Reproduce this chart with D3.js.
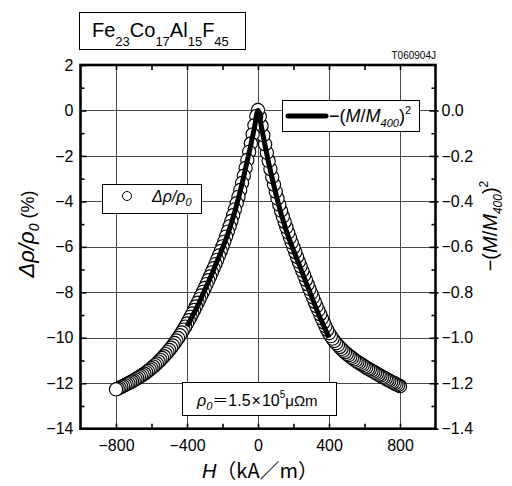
<!DOCTYPE html>
<html><head><meta charset="utf-8">
<script src="https://cdn.jsdelivr.net/npm/d3@7"></script>
<style>
html,body{margin:0;padding:0;background:#fff;}
svg{display:block;font-family:"Liberation Sans",Arial,sans-serif;}
</style></head>
<body>
<svg id="chart" width="512" height="486"></svg>
<script>
// ---- data ----
const fieldH = [800,790,780,770,760,750,740,730,720,710,700,690,680,670,660,650,640,630,620,610,
600,590,580,570,560,550,540,530,520,510,500,490,480,470,460,450,440,430,420,410,
400,390,380,370,360,350,340,330,320,310,300,290,280,270,260,250,240,230,220,210,
200,190,180,170,160,150,140,130,120,110,100,90,80,70,60,50,40,30,20,10,0,
-10,-20,-30,-40,-50,-60,-70,-80,-90,-100,-110,-120,-130,-140,-150,-160,-170,-180,-190,-200,
-210,-220,-230,-240,-250,-260,-270,-280,-290,-300,-310,-320,-330,-340,-350,-360,-370,-380,-390,-400,
-410,-420,-430,-440,-450,-460,-470,-480,-490,-500,-510,-520,-530,-540,-550,-560,-570,-580,-590,-600,
-610,-620,-630,-640,-650,-660,-670,-680,-690,-700,-710,-720,-730,-740,-750,-760,-770,-780,-790,-800];
const resistRatio = [-12.13,-12.09,-12.05,-12.01,-11.97,-11.93,-11.89,-11.85,-11.80,-11.76,-11.72,-11.67,-11.63,-11.58,-11.54,-11.49,-11.45,-11.40,-11.36,-11.31,
-11.26,-11.21,-11.16,-11.11,-11.06,-11.01,-10.95,-10.89,-10.83,-10.77,-10.71,-10.64,-10.57,-10.49,-10.41,-10.33,-10.24,-10.14,-10.04,-9.93,
-9.80,-9.65,-9.49,-9.32,-9.15,-8.97,-8.79,-8.61,-8.42,-8.23,-8.04,-7.85,-7.65,-7.45,-7.25,-7.05,-6.85,-6.65,-6.44,-6.23,
-6.02,-5.81,-5.59,-5.37,-5.14,-4.90,-4.66,-4.41,-4.15,-3.87,-3.57,-3.26,-2.93,-2.58,-2.22,-1.86,-1.49,-1.09,-0.67,-0.27,0.02,
-0.25,-0.65,-1.05,-1.45,-1.82,-2.18,-2.53,-2.87,-3.19,-3.50,-3.80,-4.08,-4.35,-4.61,-4.86,-5.10,-5.33,-5.55,-5.77,-5.98,
-6.18,-6.38,-6.57,-6.76,-6.94,-7.12,-7.30,-7.47,-7.64,-7.81,-7.98,-8.14,-8.30,-8.46,-8.62,-8.78,-8.93,-9.08,-9.23,-9.37,
-9.51,-9.64,-9.77,-9.89,-10.01,-10.12,-10.23,-10.34,-10.44,-10.54,-10.63,-10.72,-10.81,-10.89,-10.97,-11.05,-11.13,-11.20,-11.27,-11.34,
-11.40,-11.46,-11.52,-11.58,-11.63,-11.68,-11.73,-11.78,-11.83,-11.88,-11.92,-11.96,-12.00,-12.04,-12.08,-12.12,-12.16,-12.20,-12.24,-12.27];
const magH = [-400,-380,-360,-340,-320,-300,-280,-260,-240,-220,-200,-180,-160,-140,-120,-100,-80,-60,-40,-20,0,
20,40,60,80,100,120,140,160,180,200,220,240,260,280,300,320,340,360,380,400];
const magSq = [-0.95,-0.92,-0.89,-0.86,-0.825,-0.79,-0.755,-0.72,-0.68,-0.645,-0.605,-0.565,-0.52,-0.47,-0.415,-0.355,-0.29,-0.22,-0.15,-0.075,0.0,
-0.075,-0.155,-0.23,-0.30,-0.365,-0.425,-0.48,-0.53,-0.575,-0.615,-0.655,-0.695,-0.735,-0.775,-0.815,-0.855,-0.895,-0.93,-0.965,-1.0];
const xTicks = [-800,-400,0,400,800];
const xMinorTicks = [-800,-600,-400,-200,0,200,400,600,800];
const yTicks = [2,0,-2,-4,-6,-8,-10,-12,-14];
const yMinorTicks = [1,-1,-3,-5,-7,-9,-11,-13];
const y2Ticks = [0.0,-0.2,-0.4,-0.6,-0.8,-1.0,-1.2,-1.4];
const y2MinorTicks = [0.1,-0.1,-0.3,-0.5,-0.7,-0.9,-1.1,-1.3];
const xGrid = [-800,-400,0,400,800];
const yGrid = [0,-2,-4,-6,-8,-10,-12];

// ---- layout ----
const svg = d3.select("#chart");
const L = 80.5, R = 435.5, T = 65, B = 428.7;
const x = d3.scaleLinear().domain([-1000,1000]).range([L,R]);
const y = d3.scaleLinear().domain([-14,2]).range([B,T]);
const y2 = d3.scaleLinear().domain([-1.4,0.2]).range([B,T]);
const fmt = d3.format("d");
const fmt1 = d3.format(".1f");

// grid
const grid = svg.append("g").attr("stroke","#4a4a4a").attr("stroke-width",1);
grid.selectAll("line.v").data(xGrid).join("line")
  .attr("x1",d=>Math.round(x(d))+0.5).attr("x2",d=>Math.round(x(d))+0.5).attr("y1",T).attr("y2",B);
grid.selectAll("line.h").data(yGrid).join("line")
  .attr("y1",d=>Math.round(y(d))+0.5).attr("y2",d=>Math.round(y(d))+0.5).attr("x1",L).attr("x2",R);

function styleAxis(g){
  g.select(".domain").remove();
  g.selectAll(".tick line").attr("stroke","#000").attr("stroke-width",1.6);
  g.selectAll(".tick text").attr("fill","#000").attr("font-size",16).attr("font-family","'Liberation Sans',Arial,sans-serif");
}
// axes
svg.append("g").attr("transform",`translate(${L},0)`)
  .call(d3.axisLeft(y).tickValues(yTicks).tickFormat(fmt).tickSize(-6).tickPadding(7)).call(styleAxis);
svg.append("g").attr("transform",`translate(${L},0)`)
  .call(d3.axisLeft(y).tickValues(yMinorTicks).tickFormat("").tickSize(-4)).call(styleAxis);
svg.append("g").attr("transform",`translate(${R},0)`)
  .call(d3.axisRight(y2).tickValues(y2Ticks).tickFormat(fmt1).tickSize(-6).tickPadding(6)).call(styleAxis);
svg.append("g").attr("transform",`translate(${R},0)`)
  .call(d3.axisRight(y2).tickValues(y2Ticks).tickFormat("").tickSize(3)).call(styleAxis);
svg.append("g").attr("transform",`translate(${R},0)`)
  .call(d3.axisRight(y2).tickValues(y2MinorTicks).tickFormat("").tickSize(-4)).call(styleAxis);
svg.append("g").attr("transform",`translate(0,${B})`)
  .call(d3.axisBottom(x).tickValues(xTicks).tickFormat(fmt).tickSize(0).tickPadding(11)).call(styleAxis);
svg.append("g").attr("transform",`translate(0,${B})`)
  .call(d3.axisBottom(x).tickValues(xMinorTicks).tickFormat("").tickSize(-5)).call(styleAxis);
svg.append("g").attr("transform",`translate(0,${T})`)
  .call(d3.axisTop(x).tickValues(xMinorTicks).tickFormat("").tickSize(-5)).call(styleAxis);

// data: circles (drawn from +800 down to -800), then M^2 line on top
const pts = fieldH.map((h,i)=>({h, v: resistRatio[i]}));
svg.append("g").selectAll("circle").data(pts).join("circle")
  .attr("cx",d=>x(d.h)).attr("cy",d=>y(d.v)).attr("r",6.6)
  .attr("fill","#fff").attr("stroke","#000").attr("stroke-width",1.15);
const mline = magH.map((h,i)=>({h, v: magSq[i]}));
svg.append("path").datum(mline)
  .attr("d", d3.line().x(d=>x(d.h)).y(d=>y2(d.v)).curve(d3.curveMonotoneX))
  .attr("fill","none").attr("stroke","#000").attr("stroke-width",5).attr("stroke-linejoin","round");

// frame
svg.append("rect").attr("x",L).attr("y",T).attr("width",R-L).attr("height",B-T)
  .attr("fill","none").attr("stroke","#000").attr("stroke-width",2.6);

// rich text helper
function rich(parent, xx, yy, parts, opts={}){
  const t = parent.append("text").attr("x",xx).attr("y",yy).attr("fill","#000")
    .attr("font-size",opts.size||16).attr("text-anchor",opts.anchor||"start");
  if (opts.transform) t.attr("transform",opts.transform);
  let cur = 0;
  parts.forEach(p=>{
    const off = p.off||0;
    const ts = t.append("tspan").text(p.t).attr("dy", off-cur);
    cur = off;
    if (p.size) ts.attr("font-size",p.size);
    if (p.it) ts.attr("font-style","italic");
    if (p.ff) ts.attr("font-family",p.ff);
    if (p.dx) ts.attr("dx",p.dx);
  });
  return t;
}
const CJK = "'Noto Sans CJK JP',sans-serif";

// title box
svg.append("rect").attr("x",79.5).attr("y",12.5).attr("width",166).attr("height",37)
  .attr("fill","#fff").attr("stroke","#000").attr("stroke-width",1);
rich(svg, 92, 37, [
  {t:"Fe",size:20},{t:"23",size:13,off:9},{t:"Co",size:20},{t:"17",size:13,off:9},
  {t:"Al",size:20},{t:"15",size:13,off:9},{t:"F",size:20},{t:"45",size:13,off:9}
], {size:20});
svg.append("text").attr("x",436).attr("y",59).attr("text-anchor","end")
  .attr("font-size",10).attr("fill","#000").text("T060904J");

// legend: M^2 line
svg.append("rect").attr("x",282.5).attr("y",100.5).attr("width",137).attr("height",31)
  .attr("fill","#fff").attr("stroke","#000").attr("stroke-width",1);
svg.append("line").attr("x1",288).attr("x2",326).attr("y1",116).attr("y2",116)
  .attr("stroke","#000").attr("stroke-width",5).attr("stroke-linecap","round");
rich(svg, 329, 122, [
  {t:"−("},{t:"M",it:true},{t:"/"},{t:"M",it:true},{t:"400",size:11,it:true,off:5},{t:")"},{t:"2",size:11,off:-8}
], {size:18});

// legend: circles
svg.append("rect").attr("x",102.5).attr("y",184.5).attr("width",99).attr("height",29)
  .attr("fill","#fff").attr("stroke","#000").attr("stroke-width",1);
svg.append("circle").attr("cx",127).attr("cy",196).attr("r",4.5)
  .attr("fill","#fff").attr("stroke","#000").attr("stroke-width",1);
rich(svg, 152, 202, [
  {t:"Δρ/ρ",it:true},{t:"0",size:11,it:true,off:4}
], {size:16});

// legend: rho0
svg.append("rect").attr("x",182.5).attr("y",382.5).attr("width",154).attr("height",33)
  .attr("fill","#fff").attr("stroke","#000").attr("stroke-width",1);
rich(svg, 197, 406, [
  {t:"ρ",it:true},{t:"0",size:11,it:true,off:4},{t:"＝",ff:CJK,size:16},{t:"1.5"},{t:"×",dx:1},{t:"10",dx:1},
  {t:"5",size:10,off:-8},{t:"μΩm",size:15}
], {size:16});

// axis titles
rich(svg, 0, 0, [
  {t:"Δρ/ρ",it:true,size:22},{t:"0",it:true,size:14,off:5},{t:" (%)",size:18}
], {size:22, anchor:"middle", transform:"translate(34,234) rotate(-90)"});
rich(svg, 0, 0, [
  {t:"−("},{t:"M",it:true},{t:"/"},{t:"M",it:true},{t:"400",size:12,it:true,off:5},{t:")"},{t:"2",size:12,off:-9}
], {size:20, anchor:"middle", transform:"translate(497,226) rotate(-90)"});
rich(svg, 260, 478, [
  {t:"H",it:true},{t:"（kA／m）",ff:CJK}
], {size:20, anchor:"middle"});
</script>
</body></html>
